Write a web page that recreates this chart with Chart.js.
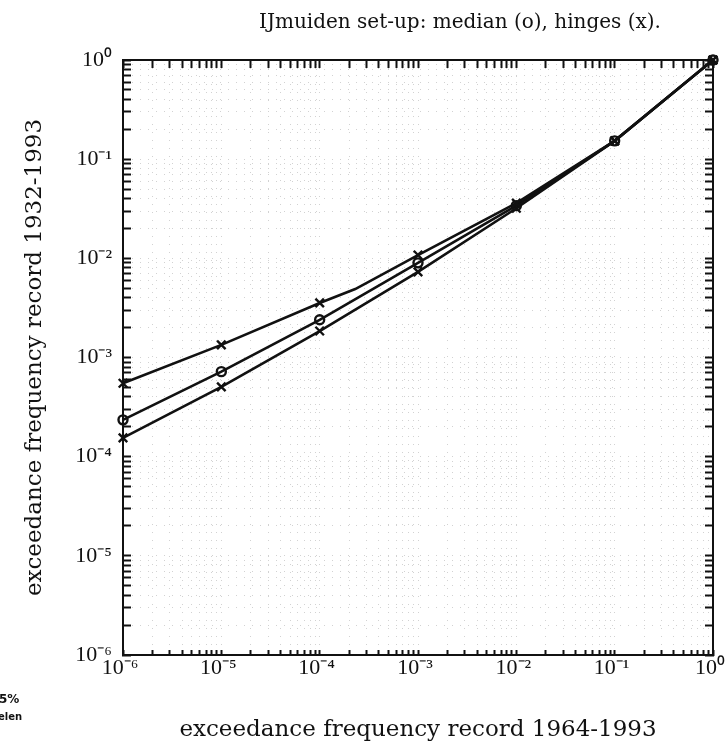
<!DOCTYPE html>
<html><head><meta charset="utf-8">
<script src="https://cdn.jsdelivr.net/npm/chart.js@4.4.0/dist/chart.umd.min.js"></script>
<style>html,body{margin:0;padding:0;background:#fff;}</style>
</head><body>
<canvas id="c" width="727" height="748"></canvas>
<script>
// ---- data ----
const titleText = 'IJmuiden set-up: median (o), hinges (x).';
const xTitle = 'exceedance frequency record 1964-1993';
const yTitle = 'exceedance frequency record 1932-1993';
const sideNotes = ['5%', 'elen'];
const axisMin = 1e-6, axisMax = 1;
const upperHingeX = [1e-6, 1e-5, 1e-4, 2.3e-4, 1e-3, 1e-2, 1e-1, 1];
const upperHinge  = [5.5e-4, 1.34e-3, 3.55e-3, 4.9e-3, 1.08e-2, 3.6e-2, 0.153, 1];
const medianX     = [1e-6, 1e-5, 1e-4, 1e-3, 1e-2, 1e-1, 1];
const median      = [2.35e-4, 7.2e-4, 2.4e-3, 9.0e-3, 3.4e-2, 0.153, 1];
const lowerHingeX = [1e-6, 1e-5, 1e-4, 1e-3, 1e-2, 1e-1, 1];
const lowerHinge  = [1.55e-4, 5.05e-4, 1.85e-3, 7.3e-3, 3.2e-2, 0.153, 1];

// ---- helpers ----
const SUP = {'-':'\u207B','0':'\u2070','1':'\u00B9','2':'\u00B2','3':'\u00B3','4':'\u2074','5':'\u2075','6':'\u2076','7':'\u2077','8':'\u2078','9':'\u2079'};
const isPow10 = v => { const l = Math.log10(v); return Math.abs(l - Math.round(l)) < 1e-6; };
const powLabel = v => isPow10(v) ? '10' + String(Math.round(Math.log10(v))).split('').map(c => SUP[c]).join('') : '';
const keepIntMantissa = s => {
  s.ticks = s.ticks.filter(t => {
    const e = Math.floor(Math.log10(t.value) + 1e-9);
    const m = t.value / Math.pow(10, e);
    return Math.abs(m - Math.round(m)) < 1e-6;
  });
};
const pts = (xs, ys) => xs.map((x, i) => ({x, y: ys[i]}));

const tickFont = {family: '"Liberation Serif", "Times New Roman", serif', size: 22};
const titleFont = {family: '"DejaVu Serif", serif', size: 23};

const gridCommon = (tl) => ({
  display: true, drawOnChartArea: true, drawTicks: true,
  color: '#d2d2d2', lineWidth: 1,
  tickLength: tl, tickWidth: 2, tickColor: '#111'
});

const sideScale = (pos, axis) => ({
  type: 'logarithmic', position: pos, axis: axis, min: axisMin, max: axisMax,
  afterBuildTicks: keepIntMantissa,
  afterFit: s => { if (axis === 'x') s.height = 0; else s.width = 0; s.paddingLeft = s.paddingRight = s.paddingTop = s.paddingBottom = 0; },
  ticks: {display: false, autoSkip: false},
  grid: {display: true, drawOnChartArea: false, drawTicks: true, tickLength: -8, tickWidth: 2, tickColor: '#111'},
  border: {display: true, color: '#111', width: 2}
});

const textPlugin = {
  id: 'texts',
  afterDraw(chart) {
    const ctx = chart.ctx;
    ctx.save();
    ctx.fillStyle = '#111';
    ctx.textAlign = 'center';
    ctx.textBaseline = 'alphabetic';
    ctx.font = '20px "DejaVu Serif", serif';
    ctx.fillText(titleText, 460, 28);
    ctx.textAlign = 'left';
    ctx.font = 'bold 12px "DejaVu Sans", sans-serif';
    ctx.fillText(sideNotes[0], -1, 703);
    ctx.font = 'bold 10px "DejaVu Sans", sans-serif';
    ctx.fillText(sideNotes[1], -2, 720);
    ctx.restore();
  }
};

const lineDs = (label, data, style, radius) => ({
  label, data,
  borderColor: '#111', borderWidth: 2.6, tension: 0, fill: false, clip: false,
  pointStyle: style,
  pointRadius: c => isPow10(c.raw.x) ? radius : 0,
  pointHoverRadius: c => isPow10(c.raw.x) ? radius : 0,
  pointBorderColor: '#111', pointBorderWidth: 2.4,
  pointBackgroundColor: 'rgba(255,255,255,0)'
});

new Chart(document.getElementById('c'), {
  type: 'line',
  data: {
    datasets: [
      lineDs('upper hinge', pts(upperHingeX, upperHinge), 'crossRot', 6),
      lineDs('median', pts(medianX, median), 'circle', 4.5),
      lineDs('lower hinge', pts(lowerHingeX, lowerHinge), 'crossRot', 6)
    ]
  },
  options: {
    responsive: false, animation: false, devicePixelRatio: 1,
    layout: {padding: {left: 0, right: 14, top: 60, bottom: 0}},
    plugins: {legend: {display: false}, tooltip: {enabled: false}, title: {display: false}},
    scales: {
      x: {
        type: 'logarithmic', position: 'bottom', min: axisMin, max: axisMax,
        afterBuildTicks: keepIntMantissa,
        afterFit: s => { s.height = 93; s.paddingLeft = 0; s.paddingRight = 0; },
        ticks: {autoSkip: false, maxRotation: 0, minRotation: 0, padding: 5, labelOffset: -3, color: '#111', font: tickFont, callback: v => powLabel(v)},
        grid: gridCommon(-5),
        border: {display: true, color: '#111', width: 2, dash: [1, 7]},
        title: {display: true, text: xTitle, color: '#111', font: titleFont, padding: {top: 0, bottom: 4}}
      },
      y: {
        type: 'logarithmic', position: 'left', min: axisMin, max: axisMax,
        afterBuildTicks: keepIntMantissa,
        afterFit: s => { s.width = 123; s.paddingTop = 0; s.paddingBottom = 0; },
        ticks: {autoSkip: false, padding: 19, color: '#111', font: tickFont, callback: v => powLabel(v)},
        grid: gridCommon(-8),
        border: {display: true, color: '#111', width: 2, dash: [1, 7]},
        title: {display: true, text: yTitle, color: '#111', font: titleFont, padding: {top: 21, bottom: 0}}
      },
      x2: sideScale('top', 'x'),
      y2: sideScale('right', 'y')
    }
  },
  plugins: [textPlugin]
});
</script>
</body></html>
